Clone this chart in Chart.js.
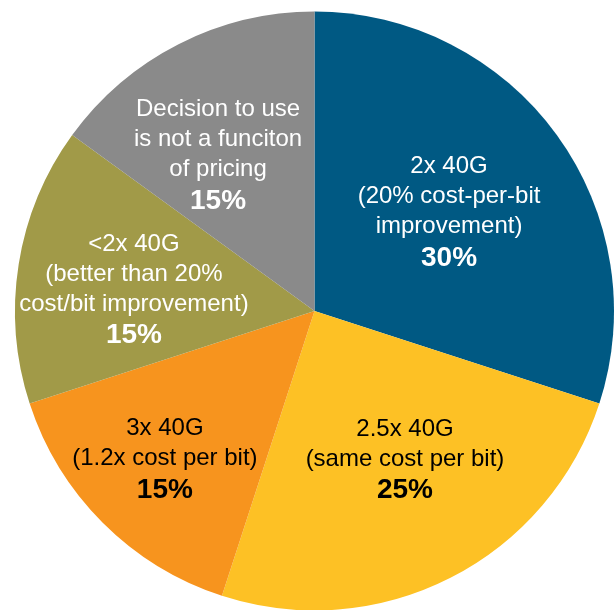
<!DOCTYPE html>
<html>
<head>
<meta charset="utf-8">
<script src="https://cdn.jsdelivr.net/npm/chart.js@4/dist/chart.umd.min.js"></script>
<style>
  html, body { margin: 0; padding: 0; background: #ffffff; }
  #wrap { width: 616px; height: 610px; position: relative; }
</style>
</head>
<body>
<div id="wrap"><canvas id="pie"></canvas></div>
<script>
// Expected 100G pricing scenarios (share of respondents)
const categories = [
  ["2x 40G", "(20% cost-per-bit", "improvement)"],
  ["2.5x 40G", "(same cost per bit)"],
  ["3x 40G", "(1.2x cost per bit)"],
  ["<2x 40G", "(better than 20%", "cost/bit improvement)"],
  ["Decision to use", "is not a funciton", "of pricing"]
];
const shares = [30, 25, 15, 15, 15];
const sliceColors = ["#005983", "#FDC125", "#F7941E", "#A19A48", "#8A8A8A"];
const textColors = ["#ffffff", "#000000", "#000000", "#ffffff", "#ffffff"];
// label placement inside each slice: fraction of radius, and angular nudge (degrees)
const labelRadius = [0.561, 0.575, 0.698, 0.608, 0.618];
const labelNudge = [-0.8, -4.7, 0.7, -1.6, -4.4];

const sliceLabels = {
  id: "sliceLabels",
  afterDatasetsDraw(chart) {
    const ctx = chart.ctx;
    const meta = chart.getDatasetMeta(0);
    meta.data.forEach((arc, i) => {
      const p = arc.getProps(["x", "y", "startAngle", "endAngle", "outerRadius"], true);
      const mid = (p.startAngle + p.endAngle) / 2 + labelNudge[i] * Math.PI / 180;
      const r = p.outerRadius * labelRadius[i];
      const cx = p.x + Math.cos(mid) * r;
      const cy = p.y + Math.sin(mid) * r;
      const lines = categories[i];
      const lh = 30;
      const span = (lines.length - 1) * lh + 31;
      let y = cy - span / 2;
      ctx.save();
      ctx.fillStyle = textColors[i];
      ctx.textAlign = "center";
      ctx.textBaseline = "alphabetic";
      ctx.font = "24px 'Liberation Sans', Arial, sans-serif";
      lines.forEach((t, k) => {
        ctx.fillText(t, cx, y + 8.6);
        if (k < lines.length - 1) y += lh;
      });
      y += 31;
      ctx.font = "bold 28px 'Liberation Sans', Arial, sans-serif";
      ctx.fillText(shares[i] + "%", cx, y + 10);
      ctx.restore();
    });
  }
};

new Chart(document.getElementById("pie"), {
  type: "pie",
  data: {
    labels: categories.map(c => c.join(" ")),
    datasets: [{
      data: shares,
      backgroundColor: sliceColors,
      borderWidth: 0,
      radius: 299.5
    }]
  },
  options: {
    responsive: true,
    maintainAspectRatio: false,
    animation: false,
    layout: { padding: { top: 12, bottom: 0, left: 15, right: 2 } },
    plugins: {
      legend: { display: false },
      tooltip: { enabled: false }
    }
  },
  plugins: [sliceLabels]
});
</script>
</body>
</html>
